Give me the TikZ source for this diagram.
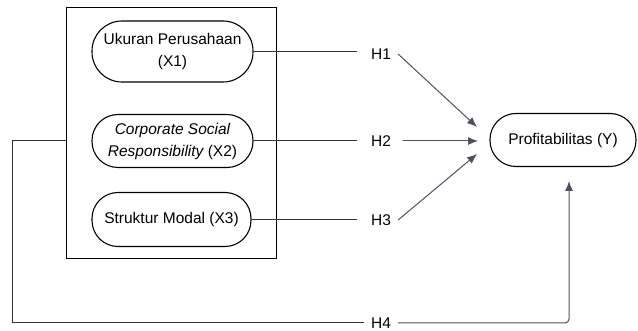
\documentclass[tikz,border=0pt]{standalone}
\usepackage{fontspec}
\setmainfont{Liberation Sans}
\usetikzlibrary{arrows.meta}
\definecolor{arrgray}{HTML}{4B5160}
\definecolor{lngray}{HTML}{333333}

\begin{document}
\begin{tikzpicture}[x=1pt, y=-1pt, font=\fontsize{15.5}{22}\selectfont,
	var/.style={draw, line width=1.1pt, rounded corners=26pt, align=center, inner sep=0pt},
	hyp/.style={inner xsep=7pt, inner ysep=1pt},
	link/.style={draw=lngray, line width=1pt},
	arr/.style={draw=arrgray, line width=1pt, -{Latex[length=10pt,width=8pt]}}]
		\useasboundingbox (0,0) rectangle (638,331);
		\node [draw, line width=1pt, minimum width=210pt, minimum height=251pt] (grp) at (171,133.5) {};
		\node [var, rounded corners=30pt, minimum width=161pt, minimum height=61pt] (x1) at (172.5,51.5) {Ukuran Perusahaan\\(X1)};
		\node [var, minimum width=161pt, minimum height=53pt] (x2) at (172.5,141) {{\itshape Corporate Social}\\{\itshape Responsibility} (X2)};
		\node [var, minimum width=159pt, minimum height=54pt] (x3) at (171.5,219.5) {Struktur Modal (X3)};
		\node [var, minimum width=146pt, minimum height=53pt] (y) at (563,140) {Profitabilitas (Y)};
		\node [hyp] (h1) at (381,54) {H1};
		\node [hyp] (h2) at (381,141) {H2};
		\node [hyp] (h3) at (381,220) {H3};
		\node [hyp] (h4) at (381,323) {H4};
		\coordinate (t1) at (477,127);
		\coordinate (t2) at (478,141);
		\coordinate (t3) at (477,154);
		\coordinate (t4) at (569,181);
		% variables to hypotheses
		\draw [link, shorten >=7pt] (x1.east) -- (h1.west |- x1.east);
		\draw [link, shorten >=7pt] (x2.east) -- (h2.west |- x2.east);
		\draw [link, shorten >=7pt] (x3.east) -- (h3.west |- x3.east);
		\draw [link] (grp.west |- x2.east) -- ++(-53,0) |- (h4.west);
		% hypotheses to profitabilitas
		\draw [arr] (h1.east) -- (t1);
		\draw [arr, shorten <=5pt] (h2.east) -- (t2);
		\draw [arr] (h3.east) -- (t3);
		\draw [arr, rounded corners=4pt] (h4.east) -| (t4);
	\end{tikzpicture}
\end{document}
